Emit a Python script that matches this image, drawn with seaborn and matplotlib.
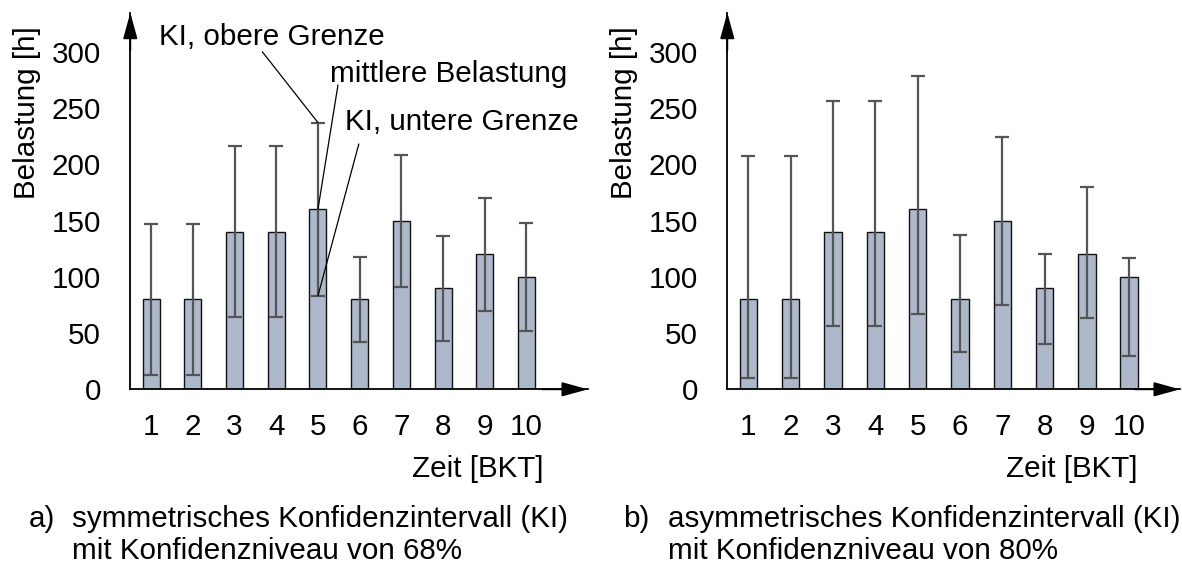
import numpy as np
import pandas as pd
import matplotlib
matplotlib.use("Agg")
import matplotlib.pyplot as plt
import seaborn as sns

# ---------------- data ----------------
zeit = ["1", "2", "3", "4", "5", "6", "7", "8", "9", "10"]
mittel = [80, 80, 140, 140, 160, 80, 150, 90, 120, 100]
# a) symmetric CI (68%)
ki_a_unten = [13, 13, 64, 64, 83, 42, 91, 43, 70, 52]
ki_a_oben = [147, 147, 216, 216, 237, 118, 208, 136, 170, 148]
# b) asymmetric CI (80%)
ki_b_unten = [10, 10, 56, 56, 67, 33, 75, 40, 63, 30]
ki_b_oben = [207, 207, 256, 256, 278, 137, 224, 120, 180, 117]
y_ticks = [0, 50, 100, 150, 200, 250, 300]

ylabel = "Belastung [h]"
xlabel = "Zeit [BKT]"
cap_a = ["a)", "symmetrisches Konfidenzintervall (KI)", "mit Konfidenzniveau von 68%"]
cap_b = ["b)", "asymmetrisches Konfidenzintervall (KI)", "mit Konfidenzniveau von 80%"]

# ---------------- style ----------------
sns.set_style("white")
plt.rcParams["font.family"] = ["Liberation Sans", "DejaVu Sans"]
plt.rcParams["text.color"] = "black"
plt.rcParams["axes.labelcolor"] = "black"
plt.rcParams["xtick.color"] = "black"
plt.rcParams["ytick.color"] = "black"
FS = 21.3
BAR = "#adb8cb"
ERR = "#555555"

W, H = 1182, 567
fig = plt.figure(figsize=(W / 100, H / 100), dpi=100)


def fx(px):
    return px / W


def fy(py):
    return 1 - py / H


def make_panel(x0, x_tip, step, lo, hi):
    y0, y_top = 389.3, 12.7
    ax = fig.add_axes([fx(x0), fy(y0), fx(x_tip) - fx(x0), fy(y_top) - fy(y0)])
    df = pd.DataFrame({"Zeit": zeit, "Belastung": mittel})
    sns.barplot(data=df, x="Zeit", y="Belastung", order=zeit, color=BAR,
                saturation=1, width=0.41, edgecolor="#111111", linewidth=1.0,
                errorbar=None, ax=ax, zorder=2)
    m = np.array(mittel, float)
    ax.errorbar(np.arange(len(zeit)), m, yerr=[m - np.array(lo), np.array(hi) - m],
                fmt="none", ecolor=ERR, elinewidth=1.6, capsize=5, capthick=1.6,
                zorder=3)
    ymax = (y0 - y_top) / 1.1253
    ax.set_ylim(0, ymax)
    ax.set_xlim(-0.5, (x_tip - x0) / step - 0.5)
    ax.set_yticks(y_ticks)
    ax.set_yticklabels([str(v) for v in y_ticks], fontsize=FS)
    ax.set_xticks(np.arange(len(zeit)))
    ax.set_xticklabels(zeit, fontsize=FS)
    ax.set_xticks(np.arange(len(zeit) + 1) - 0.5, minor=True)
    ax.tick_params(axis="x", which="major", length=0, pad=17)
    ax.tick_params(axis="x", which="minor", length=8, width=1, color="black",
                   direction="out")
    ax.tick_params(axis="y", length=8, width=1, color="black", direction="out",
                   pad=13)
    ax.set_xlabel("")
    ax.set_ylabel("")
    for s in ["top", "right"]:
        ax.spines[s].set_visible(False)
    for s in ["left", "bottom"]:
        ax.spines[s].set_color("black")
        ax.spines[s].set_linewidth(1.3)
    ap = dict(arrowstyle="-|>,head_length=0.8,head_width=0.22", color="black",
              lw=1.3, mutation_scale=20, shrinkA=0, shrinkB=0)
    ax.annotate("", xy=(1, 0), xytext=(0.9, 0), xycoords="axes fraction",
                arrowprops=ap, annotation_clip=False)
    ax.annotate("", xy=(0, 1), xytext=(0, 0.9), xycoords="axes fraction",
                arrowprops=ap, annotation_clip=False)
    return ax


axA = make_panel(130.3, 588.0, 41.7, ki_a_unten, ki_a_oben)
axB = make_panel(727.3, 1180.0, 42.3, ki_b_unten, ki_b_oben)

# y labels
fig.text(fx(27), fy(112.6), ylabel, rotation=90, ha="center", va="center", fontsize=FS)
fig.text(fx(624), fy(112.6), ylabel, rotation=90, ha="center", va="center", fontsize=FS)

# x labels
fig.text(fx(543), fy(477), xlabel, ha="right", va="baseline", fontsize=FS)
fig.text(fx(1138), fy(477), xlabel, ha="right", va="baseline", fontsize=FS)

# captions
for (lab, l1, l2), xa, xt in [(cap_a, 28.3, 71.7), (cap_b, 623.3, 668.3)]:
    fig.text(fx(xa), fy(526.7), lab, ha="left", va="baseline", fontsize=FS)
    fig.text(fx(xt), fy(526.7), l1, ha="left", va="baseline", fontsize=FS)
    fig.text(fx(xt), fy(559.3), l2, ha="left", va="baseline", fontsize=FS)

# annotations on panel a, bar 5
i5 = 4
lp = dict(arrowstyle="-", color="black", lw=0.9, shrinkA=0, shrinkB=0)
axA.text(0.19, 306, "KI, obere Grenze", ha="left", va="baseline", fontsize=FS)
axA.text(4.29, 273.4, "mittlere Belastung", ha="left", va="baseline", fontsize=FS)
axA.text(4.65, 230.4, "KI, untere Grenze", ha="left", va="baseline", fontsize=FS)
axA.annotate("", xy=(i5, ki_a_oben[i5]), xytext=(2.665, 300), arrowprops=lp)
axA.annotate("", xy=(i5, mittel[i5]), xytext=(4.48, 270.4), arrowprops=lp)
axA.annotate("", xy=(i5, ki_a_unten[i5]), xytext=(4.98, 218), arrowprops=lp)

fig.savefig("out.png", dpi=100)
